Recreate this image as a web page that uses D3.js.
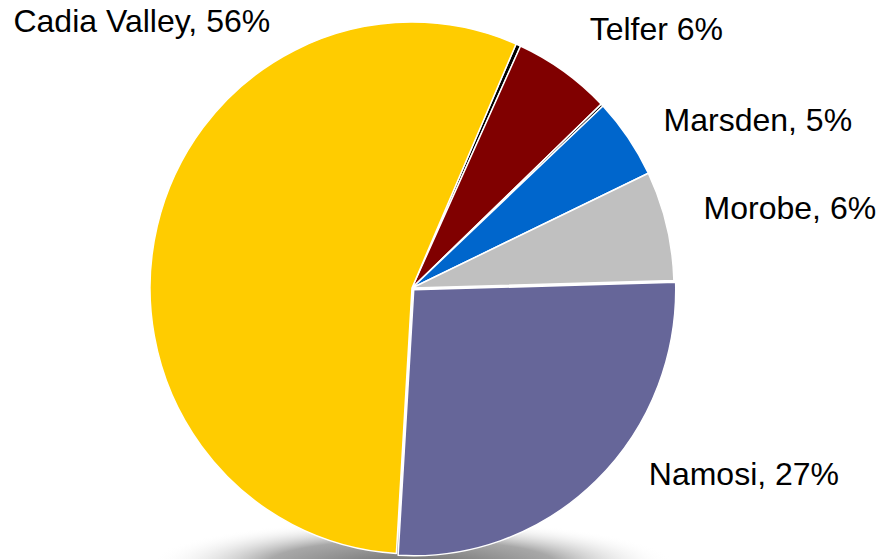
<!DOCTYPE html>
<html>
<head>
<meta charset="utf-8">
<script src="https://cdn.jsdelivr.net/npm/d3@7"></script>
<style>
  html, body { margin: 0; padding: 0; background: #fff; }
  #chart { width: 879px; height: 559px; }
  text { font-family: "Liberation Sans", Arial, sans-serif; }
</style>
</head>
<body>
<div id="chart"></div>
<script>
// slices clockwise from the top, the two black ones are tiny unlabeled slices
const names   = ["", "Telfer", "", "Marsden", "Morobe", "Namosi", "Cadia Valley"];
const values  = [0.3, 6.05, 0.15, 4.9, 6.65, 26.4, 55.55];
const labels  = ["", "Telfer 6%", "", "Marsden, 5%", "Morobe, 6%", "Namosi, 27%", "Cadia Valley, 56%"];
const colors  = ["#000000", "#800000", "#000000", "#0066CC", "#C0C0C0", "#666699", "#FFCC00"];

// label nudges away from the outer label arc
const labelNudge = [[0, 0], [4, -3], [0, 0], [4, 12], [0, 1], [28, -18], [150, -186]];
const labelAnchor = ["start", "start", "start", "start", "start", "start", "end"];

const width = 879, height = 559;
const cx = 412, cy = 288, r = 262;

const svg = d3.select("#chart").append("svg")
    .attr("width", width)
    .attr("height", height);

const defs = svg.append("defs");
const grad = defs.append("radialGradient")
    .attr("id", "shadow")
    .attr("cx", "50%").attr("cy", "50%").attr("r", "50%");
grad.append("stop").attr("offset", "0%").attr("stop-color", "#707070");
grad.append("stop").attr("offset", "55%").attr("stop-color", "#a8a8a8");
grad.append("stop").attr("offset", "100%").attr("stop-color", "#ffffff").attr("stop-opacity", 0);

// soft shadow under the pie
svg.append("ellipse")
    .attr("cx", cx)
    .attr("cy", cy + r + 14)
    .attr("rx", 262)
    .attr("ry", 44)
    .attr("fill", "url(#shadow)");

const start = 23.4 * Math.PI / 180;
const pie = d3.pie()
    .sort(null)
    .startAngle(start)
    .endAngle(start + 2 * Math.PI)
    .value(d => d);

const arcs = pie(values);
const arc = d3.arc().innerRadius(0).outerRadius(r);
const labelArc = d3.arc().innerRadius(300).outerRadius(300);

const g = svg.append("g")
    .attr("transform", `translate(${cx},${cy}) scale(1,1.015)`);

g.selectAll("path")
    .data(arcs)
    .enter()
    .append("path")
    .attr("d", arc)
    .attr("fill", (d, i) => colors[i])
    .attr("stroke", "#fff")
    .attr("stroke-width", 1.5)
    .attr("stroke-linejoin", "round")
    .attr("transform", (d, i) => {
        // Namosi sits slightly pulled out
        if (names[i] !== "Namosi") return null;
        const mid = (d.startAngle + d.endAngle) / 2;
        return `translate(${2.5 * Math.sin(mid)},${-2.5 * Math.cos(mid)})`;
    });

svg.append("g")
    .selectAll("text")
    .data(arcs.filter((d, i) => labels[i] !== ""))
    .enter()
    .append("text")
    .attr("x", d => cx + labelArc.centroid(d)[0] + labelNudge[d.index][0])
    .attr("y", d => cy + labelArc.centroid(d)[1] + labelNudge[d.index][1])
    .attr("text-anchor", d => labelAnchor[d.index])
    .attr("font-size", "32px")
    .attr("fill", "#000")
    .text(d => labels[d.index]);
</script>
</body>
</html>
